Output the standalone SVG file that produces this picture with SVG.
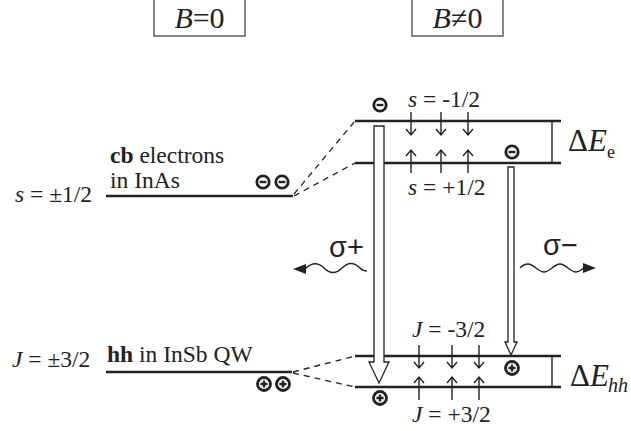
<svg xmlns="http://www.w3.org/2000/svg" width="631" height="431" viewBox="0 0 631 431">
<style>
.t{font-family:"Liberation Serif","Times New Roman",serif;fill:#222}
.l{font-size:23.5px}
.s{font-family:"Liberation Sans",Arial,sans-serif;fill:#222}
.lv{stroke:#222;stroke-width:2.6;fill:none}
.th{stroke:#222;stroke-width:1.4;fill:none}
.dash{stroke:#222;stroke-width:1.3;fill:none;stroke-dasharray:6 5}
.big{fill:#fff;stroke:#222;stroke-width:1.3}
.chg{fill:#fff;stroke:#222;stroke-width:2.8}
.sgn{stroke:#222;stroke-width:2.4;fill:none}
</style>
<defs>
<g id="minus"><circle r="6.2" class="chg"/><path d="M-3.4 0H3.4" class="sgn"/></g>
<g id="plus"><circle r="6.5" class="chg"/><path d="M-3.6 0H3.6M0 -3.6V3.6" class="sgn"/></g>
<g id="dn"><path d="M0 0V23M-5 17L0 23L5 17" class="th"/></g>
<g id="up"><path d="M0 0V-23M-5 -17L0 -23L5 -17" class="th"/></g>
</defs>

<g id="box-b0">
<rect x="154" y="-2" width="91" height="38" fill="#fff" stroke="#444" stroke-width="1.3"/>
<text x="199.5" y="28" class="t" font-size="30" text-anchor="middle"><tspan font-style="italic">B</tspan>=0</text>
</g>
<g id="box-bn0">
<rect x="412" y="-2" width="91" height="38" fill="#fff" stroke="#444" stroke-width="1.3"/>
<text x="457.5" y="28" class="t" font-size="30" text-anchor="middle"><tspan font-style="italic">B</tspan>≠0</text>
</g>

<g id="cb-level">
<line x1="106" y1="196" x2="293" y2="196" class="lv"/>
<text x="110" y="163" class="t l"><tspan font-weight="bold">cb</tspan> electrons</text>
<text x="110" y="188" class="t l">in InAs</text>
<text x="15" y="202" class="t l"><tspan font-style="italic">s</tspan> = ±1/2</text>
<use href="#minus" x="263" y="182"/>
<use href="#minus" x="282" y="182"/>
</g>

<g id="hh-level">
<line x1="106" y1="372" x2="292" y2="372" class="lv"/>
<text x="107" y="362" class="t l"><tspan font-weight="bold">hh</tspan> in InSb QW</text>
<text x="12" y="367" class="t l"><tspan font-style="italic">J</tspan> = ±3/2</text>
<use href="#plus" x="264" y="384"/>
<use href="#plus" x="283" y="384"/>
</g>

<g id="e-split">
<line x1="355" y1="121" x2="561" y2="121" class="lv"/>
<line x1="355" y1="163" x2="561" y2="163" class="lv"/>
<line x1="552" y1="121" x2="552" y2="163" class="th"/>
<use href="#dn" x="411" y="112"/>
<use href="#dn" x="441" y="112"/>
<use href="#dn" x="468" y="112"/>
<use href="#up" x="411" y="173"/>
<use href="#up" x="441" y="173"/>
<use href="#up" x="468" y="173"/>
<text x="408" y="107" class="t l"><tspan font-style="italic">s</tspan> = -1/2</text>
<text x="408" y="195" class="t l"><tspan font-style="italic">s</tspan> = +1/2</text>
<text x="568" y="151" class="t" font-size="31">Δ<tspan font-style="italic">E</tspan></text>
<text x="607" y="158" class="t" font-size="18">e</text>
<use href="#minus" x="380" y="105"/>
<use href="#minus" x="512" y="152"/>
</g>

<g id="hh-split">
<line x1="355" y1="356" x2="561" y2="356" class="lv"/>
<line x1="355" y1="387" x2="561" y2="387" class="lv"/>
<line x1="552" y1="356" x2="552" y2="387" class="th"/>
<use href="#dn" x="419" y="345"/>
<use href="#dn" x="452" y="345"/>
<use href="#dn" x="479" y="345"/>
<use href="#up" x="419" y="400"/>
<use href="#up" x="452" y="400"/>
<use href="#up" x="479" y="400"/>
<text x="412" y="337" class="t l"><tspan font-style="italic">J</tspan> = -3/2</text>
<text x="412" y="422" class="t l"><tspan font-style="italic">J</tspan> = +3/2</text>
<text x="570" y="386" class="t" font-size="31">Δ<tspan font-style="italic">E</tspan></text>
<text x="608" y="392" class="t" font-size="20" font-style="italic">hh</text>
<use href="#plus" x="512" y="368"/>
<use href="#plus" x="380" y="398"/>
</g>

<g id="connectors">
<path d="M294 194L355 121M294 196L355 163" class="dash"/>
<path d="M293 372L355 356M293 373L355 387" class="dash"/>
<path d="M374 126H384V362H389L379 383L369 362H374Z" class="big"/>
<path d="M508 167H514V342H517L511 355L505 342H508Z" class="big"/>
<path d="M305 269C312 262 318 262 324 268C330 274 336 274 342 268C348 262 354 262 360 268C362 270 364 271 367 271" class="th"/>
<path d="M293 269L306 264L306 274Z" fill="#222"/>
<path d="M520 268C522 266 524 264 528 264C534 264 538 272 544 272C550 272 554 264 560 264C566 264 570 272 576 272C580 272 582 269 584 268" class="th"/>
<path d="M596 268L583 263L583 273Z" fill="#222"/>
<text x="329" y="257" class="s" font-size="29">σ+</text>
<text x="543" y="255" class="s" font-size="29">σ−</text>
</g>
</svg>
